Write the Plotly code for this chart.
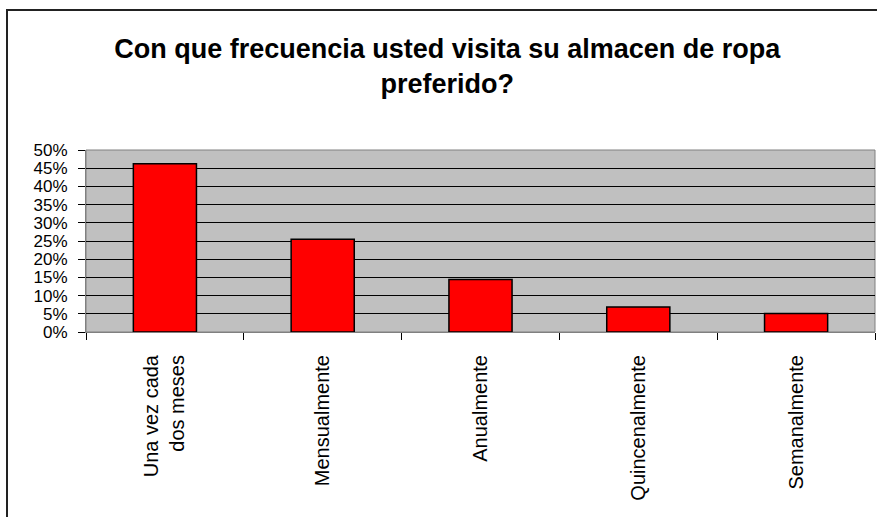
import plotly.graph_objects as go

# data
categories = ['Una vez cada<br>dos meses', 'Mensualmente', 'Anualmente', 'Quincenalmente', 'Semanalmente']
shares = [0.462, 0.255, 0.144, 0.069, 0.051]
title_text = 'Con que frecuencia usted visita su almacen de ropa<br>preferido?'

W, H = 877, 517
left, right, top, bottom = 86, 2, 150, 185

fig = go.Figure()

# red bars with black outline
fig.add_trace(go.Bar(
    x=categories,
    y=shares,
    marker=dict(color='#FF0000', line=dict(color='black', width=1.5)),
    width=0.4))

# outer chart frame (cut off at right/bottom like the reference)
plot_w = W - left - right
plot_h = H - top - bottom
fig.add_shape(type='rect', xref='paper', yref='paper',
              x0=(7 - left) / plot_w, x1=1.2,
              y0=-2.0, y1=(H - bottom - 10) / plot_h,
              line=dict(color='#222222', width=2), layer='below')

fig.update_layout(
    width=W, height=H,
    margin=dict(l=left, r=right, t=top, b=bottom),
    paper_bgcolor='white',
    plot_bgcolor='#C0C0C0',
    font=dict(family='Liberation Sans, Arial', color='black', size=17),
    title=dict(text=f'<b>{title_text}</b>', x=0.51, xanchor='center',
               y=1 - 58 / H, yanchor='middle',
               font=dict(size=27, family='Liberation Sans, Arial', color='black')),
    showlegend=False,
    bargap=0.6)

fig.update_xaxes(
    type='category',
    tickangle=-90,
    ticks='outside', ticklen=7, tickcolor='black',
    tickson='boundaries',
    ticklabelstandoff=14,
    showline=True, linecolor='#808080', linewidth=1,
    showgrid=False,
    tickfont=dict(size=20))

fig.update_yaxes(
    range=[0, 0.5],
    dtick=0.05,
    tickformat='.0%',
    ticks='outside', ticklen=7, tickcolor='black',
    ticklabelstandoff=7,
    showline=True, linecolor='#808080', linewidth=1,
    showgrid=True, gridcolor='black', gridwidth=1,
    zeroline=False,
    tickfont=dict(size=17))

# thin gray border around the plot area
fig.add_shape(type='rect', xref='paper', yref='paper', x0=0, x1=1, y0=0, y1=1,
              line=dict(color='#808080', width=1), layer='below')

# drop the default page margin so the figure sits at the window's corner
fig.write_html('out.html', config={'displayModeBar': False},
               post_script="document.body.style.margin='0';")
